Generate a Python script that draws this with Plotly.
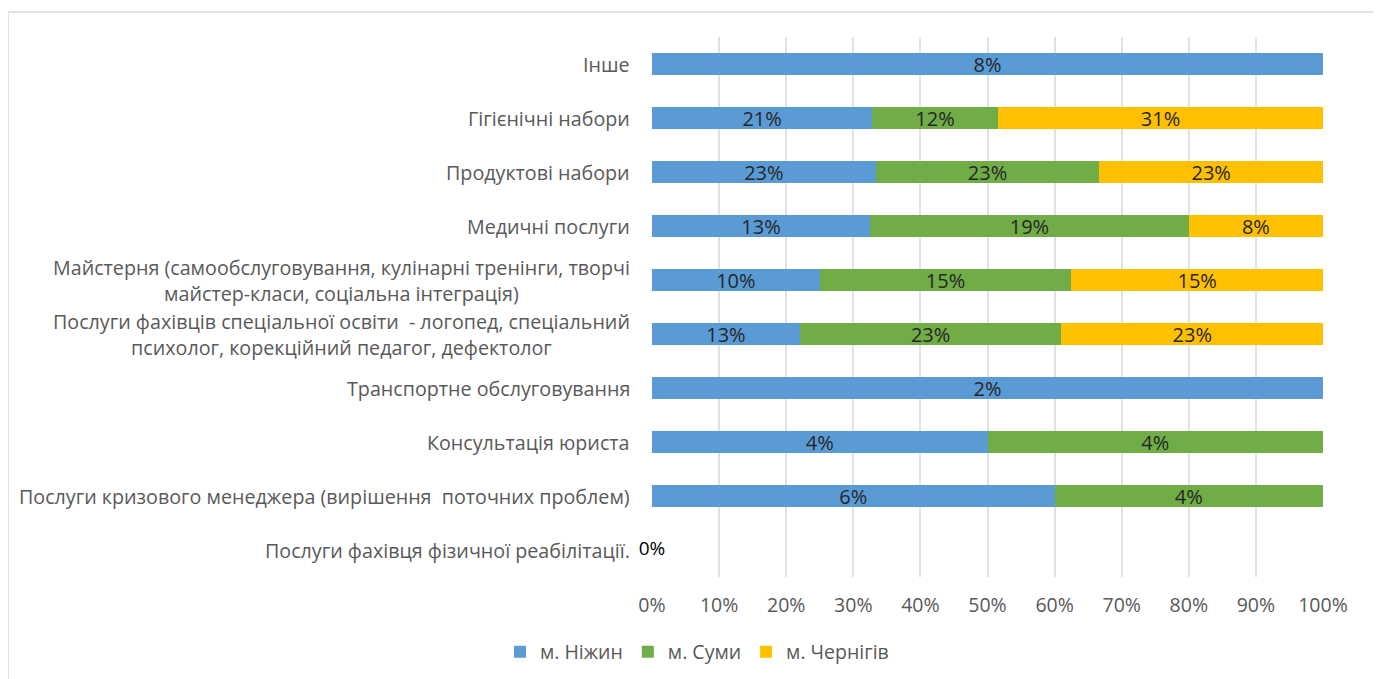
import plotly.graph_objects as go

categories = [
    "Інше",
    "Гігієнічні набори",
    "Продуктові набори",
    "Медичні послуги",
    "Майстерня (самообслуговування, кулінарні тренінги, творчі<br>майстер-класи, соціальна інтеграція)",
    "Послуги фахівців спеціальної освіти  - логопед, спеціальний<br>психолог, корекційний педагог, дефектолог",
    "Транспортне обслуговування",
    "Консультація юриста",
    "Послуги кризового менеджера (вирішення  поточних проблем)",
    "Послуги фахівця фізичної реабілітації.",
]
series_names = ["м. Ніжин", "м. Суми", "м. Чернігів"]
nizhyn = [8, 21, 23, 13, 10, 13, 2, 4, 6, 0]
sumy = [0, 12, 23, 19, 15, 23, 0, 4, 4, 0]
chernihiv = [0, 31, 23, 8, 15, 23, 0, 0, 0, 0]
colors = ["#5B9BD5", "#70AD47", "#FFC000"]
tick_vals = [0, 10, 20, 30, 40, 50, 60, 70, 80, 90, 100]
tick_text = ["0%", "10%", "20%", "30%", "40%", "50%", "60%", "70%", "80%", "90%", "100%"]

FONT = "'Open Sans', Lato, sans-serif"
series = [nizhyn, sumy, chernihiv]
totals = [sum(v) for v in zip(*series)]

fig = go.Figure()
for name, vals, col in zip(series_names, series, colors):
    share = [v / t * 100 if t else 0 for v, t in zip(vals, totals)]
    text = [f"{v}%" if v else "" for v in vals]
    fig.add_trace(go.Bar(
        y=categories, x=share, name=name, orientation="h",
        marker=dict(color=col, line=dict(width=0)),
        text=text, textposition="inside", insidetextanchor="middle",
        constraintext="none",
        textfont=dict(family=FONT, size=20, color="#262626"),
        width=0.39, hoverinfo="skip",
    ))

# zero-total categories get a "0%" label at the axis origin
zero_cats = [c for c, t in zip(categories, totals) if t == 0]
fig.add_trace(go.Scatter(
    y=zero_cats, x=[0] * len(zero_cats), mode="text",
    text=["0%"] * len(zero_cats), textposition="middle center",
    textfont=dict(family=FONT, size=19, color="#000000"),
    showlegend=False, hoverinfo="skip", cliponaxis=False,
))

# category labels as centered multi-line text
for c in categories:
    fig.add_annotation(
        x=0, xref="paper", xshift=-20, y=c, yref="y",
        text=c, showarrow=False, xanchor="right", align="center",
        font=dict(family=FONT, size=19.7, color="#595959"),
    )

# page body adds an 8px offset; plot area sits at 644..1315 x 29..569 in figure coords
PL, PR, PT, PB = 644, 1315, 29, 569
fig.add_shape(type="rect", xref="paper", yref="paper",
              x0=(0 - PL) / (PR - PL), x1=(1367 - PL) / (PR - PL),
              y0=(PB - 700) / (PB - PT), y1=(PB - 4) / (PB - PT),
              line=dict(color="#DEE3EA", width=2), layer="below")

fig.update_layout(
    width=1381, height=679,
    barmode="stack",
    plot_bgcolor="white", paper_bgcolor="white",
    margin=dict(l=PL, r=1381 - PR, t=PT, b=679 - PB, autoexpand=False),
    xaxis=dict(range=[0, 100], tickvals=tick_vals, ticktext=tick_text,
               showgrid=True, gridcolor="#DEE3EA", gridwidth=2,
               zeroline=False, showline=False, ticks="",
               ticklabelstandoff=14, automargin=False,
               tickfont=dict(family=FONT, size=19.5, color="#595959"),
               fixedrange=True),
    yaxis=dict(categoryorder="array", categoryarray=categories[::-1],
               autorange=True, showticklabels=False, showgrid=False,
               zeroline=False, showline=False, ticks="", automargin=False,
               fixedrange=True),
    legend=dict(orientation="h", x=(697 - 8) / 1381, xanchor="center", xref="container",
                y=(679 - 644) / 679, yanchor="middle", yref="container",
                font=dict(family=FONT, size=19.5, color="#595959"),
                itemwidth=30, traceorder="normal"),
    showlegend=True,
)
fig.write_html("out.html")
